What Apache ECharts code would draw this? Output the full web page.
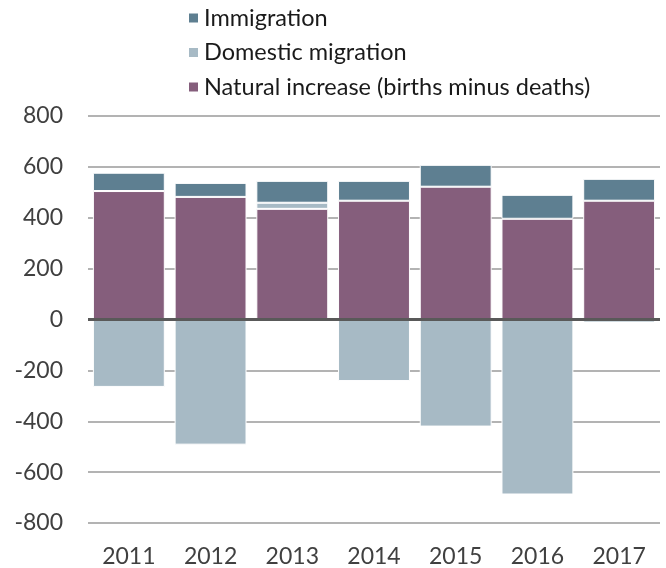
<!DOCTYPE html>
<html>
<head>
<meta charset="utf-8">
<script src="https://cdn.jsdelivr.net/npm/echarts@6/dist/echarts.min.js"></script>
<style>
  html, body { margin: 0; padding: 0; background: #fff; }
  #chart { width: 666px; height: 568px; }
</style>
</head>
<body>
<div id="chart"></div>
<script>
// data
var years = ['2011', '2012', '2013', '2014', '2015', '2016', '2017'];
var naturalIncrease = [505, 482, 435, 467, 522, 396, 467];
var domesticMigration = [-265, -492, 24, -242, -421, -688, -12];
var immigration = [72, 55, 86, 78, 86, 94, 86];
var yTicks = [-800, 800, 200]; // min, max, step

var font = 'Lato, "DejaVu Sans", sans-serif';
var chart = echarts.init(document.getElementById('chart'));

chart.setOption({
    animation: false,
    textStyle: { fontFamily: font },
    legend: {
        orient: 'vertical',
        left: 182,
        top: 1,
        itemWidth: 11,
        itemHeight: 11,
        itemGap: 10.5,
        icon: 'rect',
        data: ['Immigration', 'Domestic migration', 'Natural increase (births minus deaths)'],
        textStyle: { fontSize: 23.5, color: '#1a1a1a', fontFamily: font }
    },
    grid: { left: 88, right: 6, top: 116, bottom: 45 },
    xAxis: {
        type: 'category',
        data: years,
        axisLine: { show: false, onZero: false },
        axisTick: { show: false },
        axisLabel: { fontSize: 23, color: '#404040', margin: 22, fontFamily: font }
    },
    yAxis: {
        type: 'value',
        min: yTicks[0],
        max: yTicks[1],
        interval: yTicks[2],
        axisLine: { show: false },
        axisTick: { show: false },
        axisLabel: { fontSize: 23, color: '#404040', margin: 25, fontFamily: font },
        splitLine: { lineStyle: { color: '#9a9a9a', width: 1.5 } }
    },
    series: [
        {
            name: 'Natural increase (births minus deaths)',
            type: 'bar',
            stack: 'total',
            barCategoryGap: '12%',
            data: naturalIncrease,
            itemStyle: { color: '#855e7c', borderColor: '#fff', borderWidth: 1 }
        },
        {
            name: 'Domestic migration',
            type: 'bar',
            stack: 'total',
            data: domesticMigration,
            itemStyle: { color: '#a7bac5', borderColor: '#fff', borderWidth: 1 }
        },
        {
            name: 'Immigration',
            type: 'bar',
            stack: 'total',
            data: immigration,
            itemStyle: { color: '#5e7f91', borderColor: '#fff', borderWidth: 1 },
            // dark zero line drawn above the bars
            markLine: {
                silent: true,
                symbol: 'none',
                label: { show: false },
                lineStyle: { color: '#595959', width: 3, type: 'solid' },
                data: [{ yAxis: 0 }]
            }
        }
    ]
});
</script>
</body>
</html>
